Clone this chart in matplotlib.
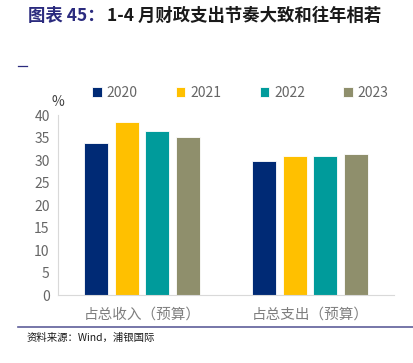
import numpy as np
import matplotlib.pyplot as plt
from matplotlib.lines import Line2D

plt.rcParams['font.family'] = ['Noto Sans CJK SC', 'DejaVu Sans']

categories = ["占总收入（预算）", "占总支出（预算）"]
years = ["2020", "2021", "2022", "2023"]
values = {
    "2020": [33.9, 29.9],
    "2021": [38.4, 31.0],
    "2022": [36.4, 31.0],
    "2023": [35.1, 31.4],
}
colors = ["#002A75", "#FFC000", "#009B9B", "#8F8F6C"]

fig = plt.figure(figsize=(4.13, 3.63), dpi=100)
ax = fig.add_axes([0.1404, 0.1873, 0.8136, 0.4957])

x = np.arange(len(categories))
step = 0.182
width = 0.143
for i, yr in enumerate(years):
    ax.bar(x + (i - 1.5) * step, values[yr], width, color=colors[i],
           edgecolor="white", linewidth=0.6, label=yr)

ax.set_xlim(-0.5, 1.5)
ax.set_ylim(0, 40)
ax.set_yticks(range(0, 41, 5))
ax.set_xticks(x)
ax.set_xticklabels(categories, fontsize=10.5, color="#7F7F7F")
ax.tick_params(axis="y", labelsize=10, colors="#666666", length=0, pad=6)
ax.tick_params(axis="x", length=0, pad=9)
for s in ["top", "right"]:
    ax.spines[s].set_visible(False)
ax.spines["left"].set_color("#D9D9D9")
ax.spines["bottom"].set_color("#D9D9D9")

ax.text(0.0, 1.035, "%", transform=ax.transAxes, fontsize=10, color="#404040",
        ha="center", va="bottom")

leg = fig.legend(loc="center", bbox_to_anchor=(0.582, 0.745), ncol=4, frameon=False,
                 fontsize=10, handlelength=0.7, handleheight=0.7,
                 columnspacing=2.75, handletextpad=0.35)
for t in leg.get_texts():
    t.set_color("#666666")

# title
fig.text(0.068, 0.957, "图表 45：", fontsize=12.5, fontweight="bold", color="#2B2B7E",
         ha="left", va="center")
fig.text(0.259, 0.957, "1-4 月财政支出节奏大致和往年相若", fontsize=12.5,
         fontweight="bold", color="#1A1A1A", ha="left", va="center")
fig.add_artist(Line2D([0.043, 0.065], [0.818, 0.818], color="#2B2B7E", lw=0.9))

# bottom rule and source
fig.add_artist(Line2D([0.043, 1.0], [0.099, 0.099], color="#5F5F9A", lw=1.2))
fig.text(0.065, 0.068, "资料来源：Wind，浦银国际", fontsize=7.5, color="#1A1A1A",
         ha="left", va="center")

fig.savefig("out.png", dpi=100)
